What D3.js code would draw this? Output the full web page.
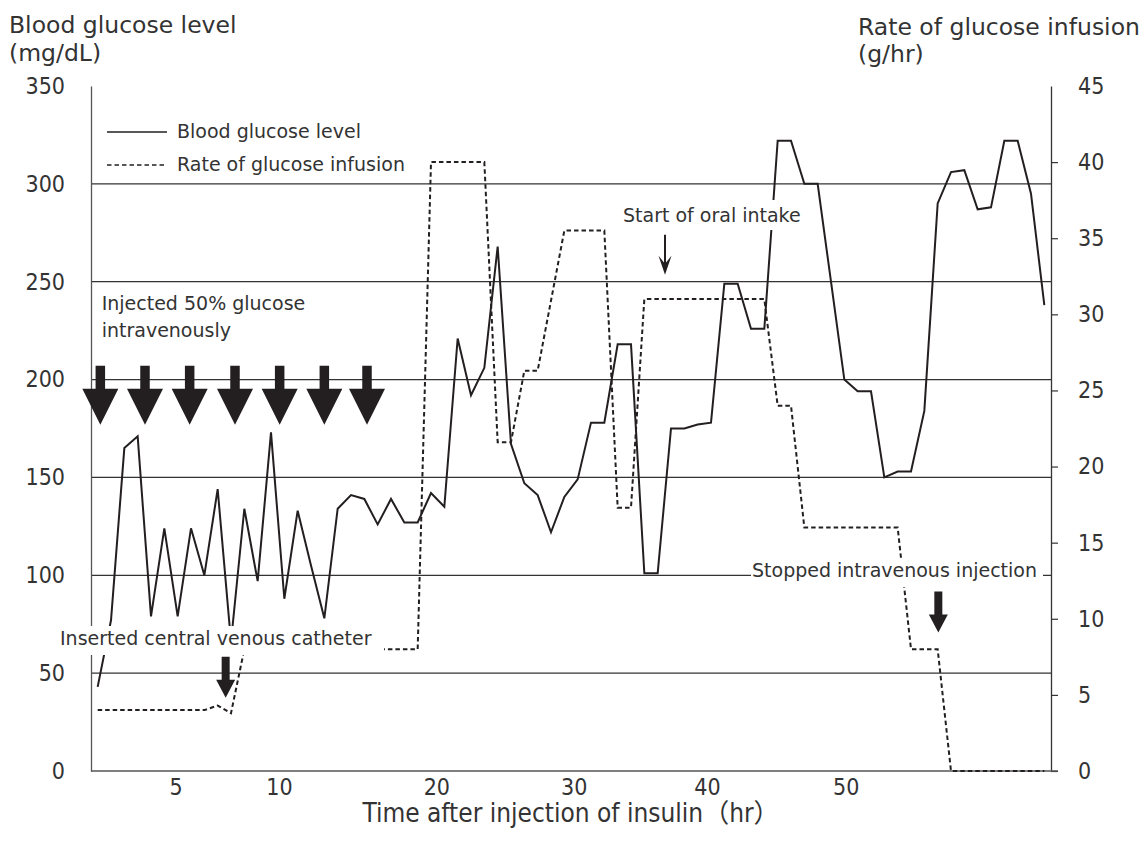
<!DOCTYPE html>
<html>
<head>
<meta charset="utf-8">
<script src="https://cdn.jsdelivr.net/npm/d3@7"></script>
<style>
  body { margin: 0; background: #fff; }
  text { fill: #333; }
  .tick-font { font-family: "Liberation Sans Narrow", "DejaVu Sans Condensed", "Liberation Sans", sans-serif; font-size: 23px; }
</style>
</head>
<body>
<svg id="chart" width="1145" height="846"></svg>
<script>
// blood glucose (mg/dL), one reading per plotted point
const glucose = [43, 77, 165, 171, 79, 124, 79, 124, 100, 144,
                 66, 134, 97, 173, 88, 133, 105, 78, 134, 141,
                 139, 126, 139, 127, 127, 142, 135, 221, 192, 206,
                 268, 167, 147, 141, 122, 140, 149, 178, 178, 218,
                 218, 101, 101, 175, 175, 177, 178, 249, 249, 226,
                 226, 322, 322, 300, 300, 250, 200, 194, 194, 150,
                 153, 153, 184, 290, 306, 307, 287, 288, 322, 322,
                 295, 238]

// glucose infusion rate (g/hr) at the same points
const infusion = [4, 4, 4, 4, 4, 4, 4, 4, 4, 4.3,
                  3.8, 8, 8, 8, 8, 8, 8, 8, 8, 8,
                  8, 8, 8, 8, 8, 40, 40, 40, 40, 40,
                  21.6, 21.6, 26.3, 26.3, 30.9, 35.5, 35.5, 35.5, 35.5, 17.3,
                  17.3, 31, 31, 31, 31, 31, 31, 31, 31, 31,
                  31, 24, 24, 16, 16, 16, 16, 16, 16, 16,
                  16, 8, 8, 8, 0, 0, 0, 0, 0, 0,
                  0, 0]

// x axis labels (hours) and the point position they sit under
const hourLabels = [5, 10, 20, 30, 40, 50]
const hourAt = [5.85, 13.6, 25.4, 35.7, 45.7, 56.1]

const leftTicks = [0, 50, 100, 150, 200, 250, 300, 350]
const rightTicks = [0, 5, 10, 15, 20, 25, 30, 35, 40, 45]
const gridValues = [50, 100, 150, 200, 250, 300]

// where the seven glucose injections are marked
const injectionAt = [0.2, 3.55, 6.9, 10.3, 13.65, 17, 20.2]

const svg = d3.select("#chart")
const ink = "#231f20"

const x = d3.scaleLinear().domain([-0.5, glucose.length - 0.5]).range([91, 1051])
const yL = d3.scaleLinear().domain([0, 350]).range([771, 86])
const yR = d3.scaleLinear().domain([0, 45]).range([771, 86])

// GRID
svg.append("g").selectAll("line").data(gridValues).join("line")
    .attr("x1", x(-0.5)).attr("x2", x(glucose.length - 0.5))
    .attr("y1", d => yL(d)).attr("y2", d => yL(d))
    .attr("stroke", "#333").attr("stroke-width", 1.2)

// AXES
const left = svg.append("g").attr("transform", "translate(" + x(-0.5) + ",0)")
    .call(d3.axisLeft(yL).tickValues(leftTicks).tickSize(0).tickSizeOuter(0).tickPadding(26))
left.select(".domain").attr("stroke", "#555").attr("stroke-width", 1.3)
left.selectAll("text").attr("class", "tick-font").attr("fill", "#333")

const right = svg.append("g").attr("transform", "translate(" + x(glucose.length - 0.5) + ",0)")
    .call(d3.axisRight(yR).tickValues(rightTicks).tickSize(7).tickSizeOuter(0).tickPadding(20))
right.select(".domain").attr("stroke", "#333").attr("stroke-width", 1.3)
right.selectAll(".tick line").attr("stroke", "#333").attr("stroke-width", 1.2)
    .filter(d => d == 45).remove()
right.selectAll("text").attr("class", "tick-font").attr("fill", "#333")

svg.append("line")
    .attr("x1", x(-0.5)).attr("x2", x(glucose.length - 0.5) + 7)
    .attr("y1", yL(0)).attr("y2", yL(0))
    .attr("stroke", "#555").attr("stroke-width", 1.3)

const bottom = svg.append("g").attr("transform", "translate(0," + yL(0) + ")")
    .call(d3.axisBottom(x).tickValues(hourAt).tickFormat((d, i) => hourLabels[i]).tickSize(0).tickPadding(8))
bottom.select(".domain").remove()
bottom.selectAll("text").attr("class", "tick-font").attr("fill", "#333")
// END AXES

// LINES
const idx = d3.range(glucose.length)

svg.append("path")
    .attr("d", d3.line().x(i => x(i)).y(i => yR(infusion[i]))(idx))
    .attr("fill", "none").attr("stroke", ink).attr("stroke-width", 2)
    .attr("stroke-dasharray", "4.5,3")

svg.append("path")
    .attr("d", d3.line().x(i => x(i)).y(i => yL(glucose[i]))(idx))
    .attr("fill", "none").attr("stroke", ink).attr("stroke-width", 2)
    .attr("stroke-linejoin", "miter")

// TITLES
const title = (t, px, py, size, anchor, family) => svg.append("text")
    .text(t).attr("x", px).attr("y", py)
    .style("font-family", family || "'DejaVu Sans', sans-serif")
    .style("font-size", size + "px")
    .style("text-anchor", anchor || "start")

title("Blood glucose level", 9, 33, 23.5)
title("(mg/dL)", 9, 61, 23.5)
title("Rate of glucose infusion", 858, 35, 23.5)
title("(g/hr)", 858, 62, 23.5)
title("Time after injection of insulin（hr）", (x(-0.5) + x(glucose.length - 0.5)) / 2, 822, 26, "middle",
    "'Liberation Sans Narrow', 'DejaVu Sans Condensed', 'Noto Sans CJK JP', sans-serif")

// LEGEND
svg.append("line").attr("x1", 107).attr("x2", 167).attr("y1", 132).attr("y2", 132)
    .attr("stroke", ink).attr("stroke-width", 1.6)
svg.append("line").attr("x1", 107).attr("x2", 167).attr("y1", 165).attr("y2", 165)
    .attr("stroke", ink).attr("stroke-width", 1.6).attr("stroke-dasharray", "4.5,3")
title("Blood glucose level", 177, 138, 19)
title("Rate of glucose infusion", 177, 171, 19)

// ANNOTATIONS
const note = (t, px, py, box) => {
    if (box) svg.append("rect").attr("x", box[0]).attr("y", box[1])
        .attr("width", box[2]).attr("height", box[3]).attr("fill", "#fff")
    return title(t, px, py, 19)
}

const bigArrow = (cx, top, sw, sh, hw, hh) => {
    svg.append("path")
        .attr("d", "M" + (cx - sw / 2) + "," + top + "h" + sw + "v" + sh + "h" + (hw - sw) / 2 +
            "l" + (-hw / 2) + "," + hh + "l" + (-hw / 2) + "," + (-hh) + "h" + (hw - sw) / 2 + "z")
        .attr("fill", ink)
}

note("Injected 50% glucose", x(0.3), yL(235.6))
note("intravenously", x(0.3), yL(221.8))
injectionAt.forEach(i => bigArrow(x(i), yL(207), 9.5, 23, 36, 36))

note("Inserted central venous catheter", 60, 645, [56, 626, 328, 29])
bigArrow(x(9.6), yL(58.4), 8, 23, 19, 18)

note("Start of oral intake", x(39.4), yL(280.5), [618, 200, 190, 30])
svg.append("line").attr("x1", x(42.55)).attr("x2", x(42.55))
    .attr("y1", yL(274)).attr("y2", yL(274) + 33)
    .attr("stroke", ink).attr("stroke-width", 2)
svg.append("path")
    .attr("d", "M" + x(42.55) + "," + (yL(274) + 40) + "l-6.5,-19l6.5,8l6.5,-8z")
    .attr("fill", ink)

note("Stopped intravenous injection", 752, 577, [751, 558, 292, 29])
bigArrow(x(63.05), yR(11.8), 8, 23, 19, 18)
</script>
</body>
</html>
